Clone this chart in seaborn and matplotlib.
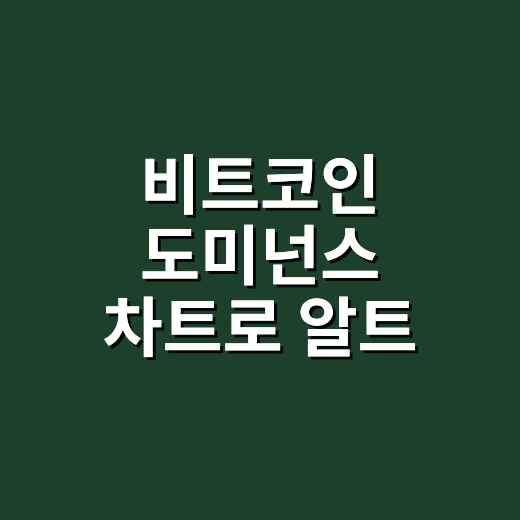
import matplotlib
matplotlib.use("Agg")
import matplotlib.pyplot as plt
import matplotlib.patheffects as pe
import seaborn as sns

sns.set_theme(style="white")
plt.rcParams['font.family'] = ['Noto Sans CJK KR', 'DejaVu Sans']

title_lines = ["비트코인", "도미넌스", "차트로 알트"]
line_y = [0.636, 0.500, 0.362]
bg_color = "#1c402c"

fig = plt.figure(figsize=(5.2, 5.2), dpi=100)
fig.patch.set_facecolor(bg_color)
ax = fig.add_axes([0, 0, 1, 1])
ax.set_facecolor(bg_color)
ax.set_xlim(0, 1)
ax.set_ylim(0, 1)
ax.axis("off")

for txt, y in zip(title_lines, line_y):
    ax.text(0.5, y, txt, ha="center", va="center", color="white",
            fontsize=47, fontweight="bold",
            path_effects=[pe.withSimplePatchShadow(offset=(2.2, -2.2), shadow_rgbFace="black", alpha=0.9),
                          pe.Normal()])

fig.savefig("out.png", dpi=100, facecolor=bg_color)
